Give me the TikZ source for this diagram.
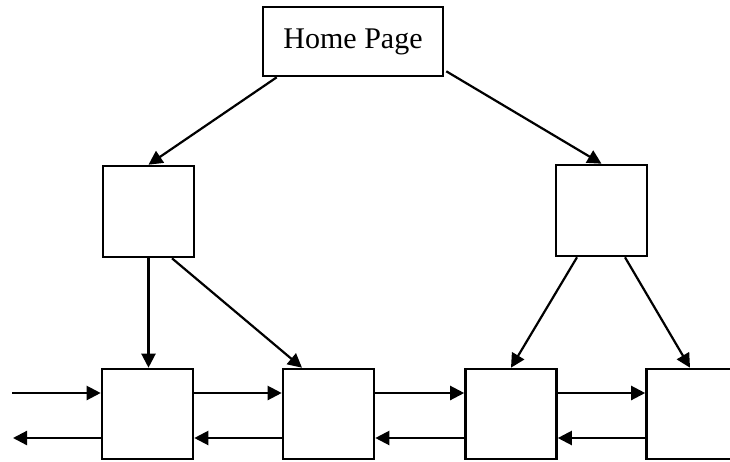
\documentclass[tikz,border=0pt]{standalone}
\usepackage{fontspec}
\setmainfont{Liberation Serif}
\usetikzlibrary{arrows.meta,calc}
\begin{document}
\begin{tikzpicture}[x=1pt,y=-1pt,
  pagebox/.style={draw,line width=2.6pt,minimum width=91pt,minimum height=91pt,inner sep=0pt,fill=white},
  link/.style={line width=2.2pt,-{Triangle[length=14pt,width=14pt]}}]
\useasboundingbox (0,0) rectangle (730,461);
\clip (0,0) rectangle (730,461);
\node[draw,line width=2.6pt,minimum width=180pt,minimum height=69pt,inner sep=0pt,font=\fontsize{30}{33}\selectfont] (home) at (353,41.5) {Home Page};
\node[pagebox] (m1) at (148.5,211.5) {};
\node[pagebox] (m2) at (601.5,210.5) {};
\node[pagebox,minimum height=90pt] (b1) at (147.5,414) {};
\node[pagebox,minimum height=90pt] (b2) at (328.5,414) {};
\node[pagebox,minimum height=90pt] (b3) at (511,414) {};
\node[pagebox,minimum height=90pt] (b4) at (692,414) {};
\coordinate (inL) at (12,393);
\coordinate (outL) at (13,438);
% tree arrows
\draw[link] ($(home.south west)+(15,0)$) -- (m1.north);
\draw[link] ($(home.south east)+(2,-6)$) -- (m2.north);
\draw[link] (m1.south) -- (m1.south |- b1.north);
\draw[link] ($(m1.south)+(23.5,0)$) -- ($(b2.north)+(-26.5,0)$);
\draw[link] ($(m2.south)+(-24.5,0)$) -- (b3.north);
\draw[link] ($(m2.south)+(23.5,0)$) -- ($(b4.north)+(-2,0)$);
% horizontal links
\draw[link] (inL) -- ([yshift=21pt]b1.west);
\draw[link] ([yshift=21pt]b1.east) -- ([yshift=21pt]b2.west);
\draw[link] ([yshift=21pt]b2.east) -- ([yshift=21pt]b3.west);
\draw[link] ([yshift=21pt]b3.east) -- ([yshift=21pt]b4.west);
\draw[link] ([yshift=-24pt]b1.west) -- (outL);
\draw[link] ([yshift=-24pt]b2.west) -- ([yshift=-24pt]b1.east);
\draw[link] ([yshift=-24pt]b3.west) -- ([yshift=-24pt]b2.east);
\draw[link] ([yshift=-24pt]b4.west) -- ([yshift=-24pt]b3.east);
\end{tikzpicture}
\end{document}
